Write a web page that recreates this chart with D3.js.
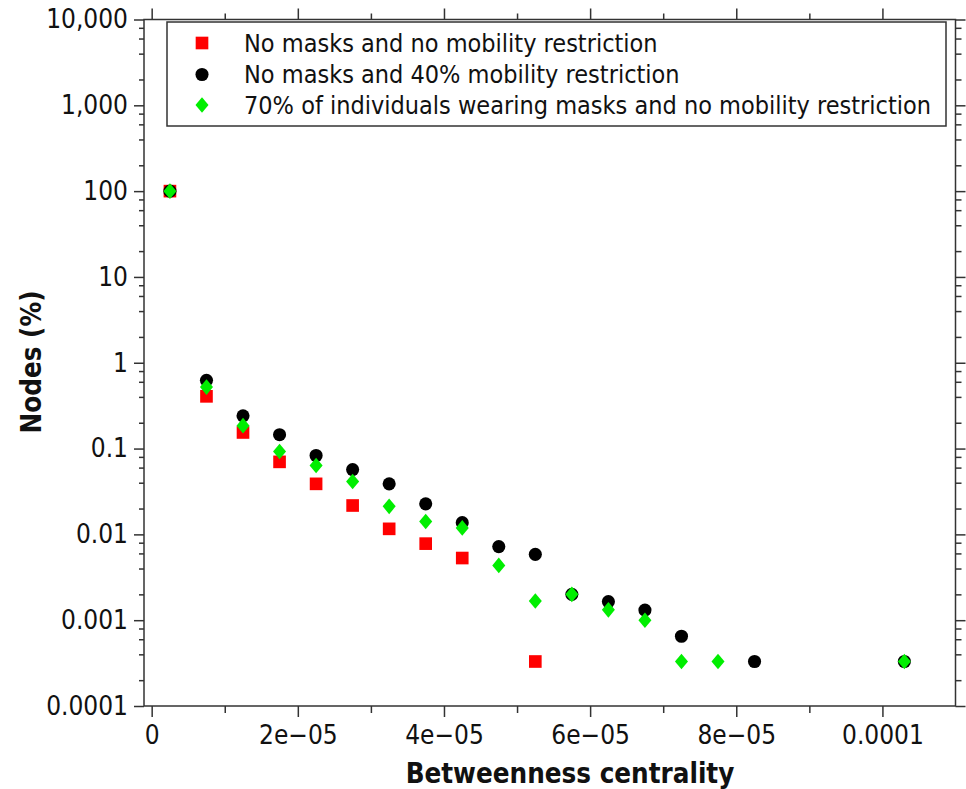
<!DOCTYPE html>
<html>
<head>
<meta charset="utf-8">
<title>Nodes vs betweenness centrality</title>
<script src="https://d3js.org/d3.v7.min.js"></script>
<style>
  body { margin: 0; background: #fff; }
  svg text { font-family: "DejaVu Sans Condensed", "DejaVu Sans", sans-serif; fill: #111; }
</style>
</head>
<body>
<div id="chart"></div>
<script>
// betweenness centrality bins (x) and node shares in % (y)
var redX   = [2.5e-6, 7.5e-6, 1.25e-5, 1.75e-5, 2.25e-5, 2.75e-5, 3.25e-5, 3.75e-5, 4.25e-5, 5.25e-5];
var redY   = [100, 0.406, 0.154, 0.070, 0.0388, 0.0217, 0.0116, 0.0078, 0.0053, 0.00033];

var blackX = [2.5e-6, 7.5e-6, 1.25e-5, 1.75e-5, 2.25e-5, 2.75e-5, 3.25e-5, 3.75e-5, 4.25e-5, 4.75e-5,
              5.25e-5, 5.75e-5, 6.25e-5, 6.75e-5, 7.25e-5, 8.25e-5, 1.03e-4];
var blackY = [100, 0.625, 0.241, 0.145, 0.083, 0.057, 0.0388, 0.0227, 0.0137, 0.0072,
              0.00585, 0.002, 0.00165, 0.00131, 0.00065, 0.00033, 0.00033];

var greenX = [2.5e-6, 7.5e-6, 1.25e-5, 1.75e-5, 2.25e-5, 2.75e-5, 3.25e-5, 3.75e-5, 4.25e-5, 4.75e-5,
              5.25e-5, 5.75e-5, 6.25e-5, 6.75e-5, 7.25e-5, 7.75e-5, 1.03e-4];
var greenY = [100, 0.52, 0.185, 0.0925, 0.0635, 0.0413, 0.0212, 0.0141, 0.0119, 0.00435,
              0.00167, 0.002, 0.00132, 0.001, 0.00033, 0.00033, 0.00033];

var legendLabels = [
  "No masks and no mobility restriction",
  "No masks and 40% mobility restriction",
  "70% of individuals wearing masks and no mobility restriction"
];

var xMajor = [0, 2e-5, 4e-5, 6e-5, 8e-5, 1e-4];
var xMajorLabels = ["0", "2e\u221205", "4e\u221205", "6e\u221205", "8e\u221205", "0.0001"];
var xMinor = [1e-5, 3e-5, 5e-5, 7e-5, 9e-5];
var yMajor = [1e4, 1e3, 100, 10, 1, 0.1, 0.01, 0.001, 0.0001];
var yMajorLabels = ["10,000", "1,000", "100", "10", "1", "0.1", "0.01", "0.001", "0.0001"];
var yMinorSteps = [2, 4, 6, 8];

(function () {
  var W = 966, H = 789;
  var pLeft = 144, pRight = 955.5, pTop = 19.5, pBottom = 706;

  var svg = d3.select("#chart").append("svg")
      .attr("width", W)
      .attr("height", H);

  var x = d3.scaleLinear().domain([-1.05e-6, 1.1e-4]).range([pLeft, pRight]);
  var y = d3.scaleLog().domain([1e-4, 1e4]).range([pBottom, pTop]);

  // minor ticks on the log axis: 2,4,6,8 times each decade
  var yMinor = [];
  yMajor.slice(1).forEach(function (d) {
    yMinorSteps.forEach(function (m) { yMinor.push(d * m); });
  });

  var axisColor = "#333";

  function styleAxis(g) {
    g.select(".domain").remove();
    g.selectAll("line").attr("stroke", axisColor).attr("stroke-width", 1.5);
  }

  // bottom
  svg.append("g").attr("transform", "translate(0," + pBottom + ")")
    .call(d3.axisBottom(x).tickValues(xMajor).tickSize(11).tickPadding(9)
      .tickFormat(function (d, i) { return xMajorLabels[i]; }))
    .call(styleAxis)
    .selectAll("text").style("font-size", "26px");
  svg.append("g").attr("transform", "translate(0," + pBottom + ")")
    .call(d3.axisBottom(x).tickValues(xMinor).tickSize(7).tickFormat(""))
    .call(styleAxis);

  // top
  svg.append("g").attr("transform", "translate(0," + pTop + ")")
    .call(d3.axisTop(x).tickValues(xMajor).tickSize(11).tickFormat(""))
    .call(styleAxis);
  svg.append("g").attr("transform", "translate(0," + pTop + ")")
    .call(d3.axisTop(x).tickValues(xMinor).tickSize(6).tickFormat(""))
    .call(styleAxis);

  // left
  svg.append("g").attr("transform", "translate(" + pLeft + ",0)")
    .call(d3.axisLeft(y).tickValues(yMajor).tickSize(10).tickPadding(6)
      .tickFormat(function (d, i) { return yMajorLabels[i]; }))
    .call(styleAxis)
    .selectAll("text").style("font-size", "26px");
  svg.append("g").attr("transform", "translate(" + pLeft + ",0)")
    .call(d3.axisLeft(y).tickValues(yMinor).tickSize(5).tickFormat(""))
    .call(styleAxis);

  // right
  svg.append("g").attr("transform", "translate(" + pRight + ",0)")
    .call(d3.axisRight(y).tickValues(yMajor).tickSize(10).tickFormat(""))
    .call(styleAxis);
  svg.append("g").attr("transform", "translate(" + pRight + ",0)")
    .call(d3.axisRight(y).tickValues(yMinor).tickSize(6).tickFormat(""))
    .call(styleAxis);

  // frame
  svg.append("rect")
    .attr("x", pLeft).attr("y", pTop)
    .attr("width", pRight - pLeft).attr("height", pBottom - pTop)
    .attr("fill", "none").attr("stroke", axisColor).attr("stroke-width", 1.5);

  // axis titles
  svg.append("text")
    .attr("x", 570).attr("y", 783)
    .attr("text-anchor", "middle")
    .style("font-size", "27.5px").style("font-weight", "bold")
    .text("Betweenness centrality");

  svg.append("text")
    .attr("transform", "translate(41,362) rotate(-90)")
    .attr("text-anchor", "middle")
    .style("font-size", "27.5px").style("font-weight", "bold")
    .text("Nodes (%)");

  // markers
  var sq = d3.symbol().type(d3.symbolSquare).size(160);
  var circ = d3.symbol().type(d3.symbolCircle).size(135);
  var dia = d3.symbol().type(d3.symbolDiamond).size(70);

  function drawSeries(xs, ys, sym, color, sx) {
    svg.append("g").selectAll("path")
      .data(xs.map(function (d, i) { return [d, ys[i]]; }))
      .enter().append("path")
      .attr("d", sym)
      .attr("fill", color)
      .attr("transform", function (d) {
        return "translate(" + x(d[0]) + "," + y(d[1]) + ")" + (sx ? " scale(" + sx + ",1)" : "");
      });
  }

  drawSeries(redX, redY, sq, "#ff0000");
  drawSeries(blackX, blackY, circ, "#000000");
  drawSeries(greenX, greenY, dia, "#00ee00", 1.45);

  // legend
  var legend = svg.append("g");
  legend.append("rect")
    .attr("x", 167).attr("y", 22)
    .attr("width", 946 - 167).attr("height", 126 - 22)
    .attr("fill", "#fff").attr("stroke", axisColor).attr("stroke-width", 1.5);

  var legendSyms = [[sq, "#ff0000", 0], [circ, "#000000", 0], [dia, "#00ee00", 1.45]];
  var legendY = [43, 74.5, 105];
  legendLabels.forEach(function (lab, i) {
    legend.append("path")
      .attr("d", legendSyms[i][0])
      .attr("fill", legendSyms[i][1])
      .attr("transform", "translate(202," + legendY[i] + ")" + (legendSyms[i][2] ? " scale(1.45,1)" : ""));
    legend.append("text")
      .attr("x", 244).attr("y", legendY[i])
      .attr("dy", "0.35em")
      .style("font-size", "25px")
      .text(lab);
  });
})();
</script>
</body>
</html>
